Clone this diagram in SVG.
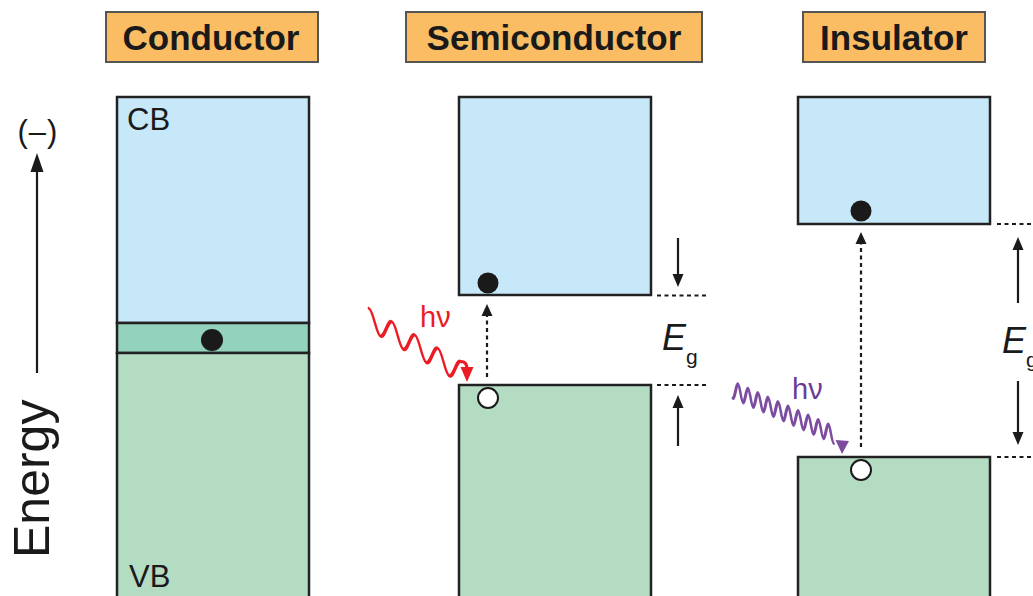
<svg xmlns="http://www.w3.org/2000/svg" width="1033" height="596" viewBox="0 0 1033 596">
<defs>
<style>
.title{fill:#fbbd63;stroke:#555;stroke-width:2}
.tt{font-family:"Liberation Sans",Arial,sans-serif;font-weight:bold;font-size:35px;fill:#1a1a1a;text-anchor:middle}
.cb{fill:#c6e8f8;stroke:#222;stroke-width:2.5}
.vb{fill:#b3dcc3;stroke:#222;stroke-width:2.5}
.band{fill:#93d2bd;stroke:#222;stroke-width:2.5}
.lbl{font-family:"Liberation Sans",Arial,sans-serif;font-size:31px;fill:#1a1a1a}
.e{fill:#1a1a1a}
.h{fill:#fff;stroke:#1a1a1a;stroke-width:2}
.dot{stroke:#1a1a1a;stroke-width:2.2;stroke-dasharray:4 3.5;fill:none}
.sol{stroke:#1a1a1a;stroke-width:2.2;fill:none}
.ah{fill:#1a1a1a}
.eg{font-family:"Liberation Sans",Arial,sans-serif;fill:#1a1a1a}
.wr{fill:none;stroke:#ec1c24;stroke-width:3.2;stroke-linejoin:round;stroke-linecap:round}
.wp{fill:none;stroke:#7d4ba0;stroke-width:3;stroke-linejoin:round;stroke-linecap:round}
</style>
</defs>
<rect width="1033" height="596" fill="#fff"/>

<g id="title-conductor"><rect class="title" x="106" y="12" width="212" height="50"/><text class="tt" x="211" y="50">Conductor</text></g>
<g id="title-semiconductor"><rect class="title" x="406" y="12" width="296" height="50"/><text class="tt" x="554" y="50">Semiconductor</text></g>
<g id="title-insulator"><rect class="title" x="803" y="12" width="182" height="50"/><text class="tt" x="894" y="50">Insulator</text></g>

<g id="energy-axis">
<text class="lbl" x="38" y="142" text-anchor="middle" font-size="40" letter-spacing="1">(–)</text>
<line class="sol" x1="37" y1="170" x2="37" y2="373"/>
<polygon class="ah" points="37,153 30.5,172 43.5,172"/>
<text font-family="Liberation Sans, Arial, sans-serif" font-size="50" fill="#1a1a1a" transform="translate(49,558) rotate(-90)">Energy</text>
</g>

<g id="conductor">
<rect class="cb" x="117" y="97" width="192" height="226"/>
<rect class="band" x="117" y="323" width="192" height="30"/>
<rect class="vb" x="117" y="353" width="192" height="260"/>
<text class="lbl" x="127" y="130">CB</text>
<text class="lbl" x="129" y="587">VB</text>
<circle class="e" cx="212" cy="340" r="11"/>
</g>

<g id="semiconductor">
<rect class="cb" x="459" y="97" width="192" height="198"/>
<rect class="vb" x="459" y="385" width="192" height="230"/>
<circle class="e" cx="488" cy="283" r="10.5"/>
<circle class="h" cx="488" cy="398" r="10"/>
<text class="eg" x="662" y="350" font-size="36" font-style="italic">E</text>
<text class="eg" x="686" y="364" font-size="21">g</text>
</g>

<g id="insulator">
<rect class="cb" x="798" y="97" width="192" height="127"/>
<rect class="vb" x="798" y="457" width="192" height="160"/>
<circle class="e" cx="861" cy="211" r="10.5"/>
<circle class="h" cx="861" cy="470" r="10"/>
<text class="eg" x="1002" y="353" font-size="36" font-style="italic">E</text>
<text class="eg" x="1026" y="367" font-size="21">g</text>
</g>

<g id="photon-red">
<path class="wr" transform="matrix(0.866,0.5,0,1,369,319)" d="M0,-10.5 c4.8,0 8.45,21 13.25,21 s8.45,-21 13.25,-21 s8.45,21 13.25,21 s8.45,-21 13.25,-21 s8.45,21 13.25,21 s8.45,-21 13.25,-21 s8.45,21 13.25,21 s8.45,-21 13.25,-21"/>
<path class="wr" d="M460.8,361.5 C465,361.5 467,364 467,369"/>
<polygon points="460.5,367 473.5,367 467,382" fill="#ec1c24"/>
<text x="420" y="327" font-family="Liberation Sans, Arial, sans-serif" font-size="29" fill="#ec1c24">hν</text>
</g>

<g id="photon-purple">
<path class="wp" transform="matrix(0.9135,0.4067,0,1,733,390)" d="M0,8.5 c2,0 3.5,-17 5.5,-17 s3.5,17 5.5,17 s3.5,-17 5.5,-17 s3.5,17 5.5,17 s3.5,-17 5.5,-17 s3.5,17 5.5,17 s3.5,-17 5.5,-17 s3.5,17 5.5,17 s3.5,-17 5.5,-17 s3.5,17 5.5,17 s3.5,-17 5.5,-17 s3.5,17 5.5,17 s3.5,-17 5.5,-17 s3.5,17 5.5,17 s3.5,-17 5.5,-17 s3.5,17 5.5,17 s3.5,-17 5.5,-17 s3.5,17 5.5,17 s3.5,-17 5.5,-17 s3.5,17 5.5,17"/>
<polygon points="835.5,440 849,441 842,454" fill="#7d4ba0"/>
<text x="792" y="399" font-family="Liberation Sans, Arial, sans-serif" font-size="29" fill="#6b3b94">hν</text>
</g>

<g id="connectors">
<line class="dot" x1="487" y1="377" x2="487" y2="314"/>
<polygon class="ah" points="487,304 481.5,316 492.5,316"/>
<line class="dot" x1="861" y1="447" x2="861" y2="242"/>
<polygon class="ah" points="861,232 855.5,244 866.5,244"/>
<line class="dot" x1="657" y1="295.5" x2="706" y2="295.5"/>
<line class="dot" x1="657" y1="385" x2="706" y2="385"/>
<line class="dot" x1="997" y1="224" x2="1033" y2="224"/>
<line class="dot" x1="997" y1="457" x2="1033" y2="457"/>
<line class="sol" x1="678" y1="238" x2="678" y2="276"/>
<polygon class="ah" points="678,287 672.5,274 683.5,274"/>
<line class="sol" x1="678" y1="446" x2="678" y2="406"/>
<polygon class="ah" points="678,395 672.5,408 683.5,408"/>
<line class="sol" x1="1018" y1="303" x2="1018" y2="248"/>
<polygon class="ah" points="1018,237 1012.5,250 1023.5,250"/>
<line class="sol" x1="1018" y1="381" x2="1018" y2="434"/>
<polygon class="ah" points="1018,445 1012.5,432 1023.5,432"/>
</g>
</svg>
